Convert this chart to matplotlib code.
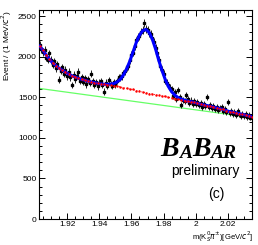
import numpy as np
import matplotlib
matplotlib.use("Agg")
import matplotlib.pyplot as plt
from matplotlib.ticker import MultipleLocator

# data points, 1 MeV bins
mass = np.round(np.arange(1.903, 2.0345, 0.001), 4)
counts = [2150, 2095, 2060, 2085, 1990, 1965, 2040, 1960, 1900, 1945,
          1860, 1905, 1715, 1830, 1870, 1790, 1840, 1760, 1815, 1745,
          1650, 1780, 1720, 1765, 1815, 1700, 1745, 1690, 1735, 1660,
          1720, 1675, 1790, 1700, 1655, 1690, 1635, 1680, 1700, 1650,
          1570, 1680, 1640, 1710, 1660, 1640, 1690, 1660, 1700, 1745,
          1740, 1760, 1800, 1820, 1870, 1880, 1960, 2020, 2050, 2130,
          2200, 2240, 2250, 2310, 2330, 2410, 2340, 2330, 2290, 2280,
          2230, 2180, 2110, 2040, 1960, 1880, 1840, 1790, 1700, 1680,
          1650, 1620, 1600, 1520, 1560, 1480, 1590, 1500, 1400, 1470,
          1450, 1525, 1480, 1430, 1460, 1415, 1450, 1420, 1445, 1400,
          1430, 1385, 1420, 1395, 1505, 1380, 1400, 1365, 1395, 1355,
          1380, 1345, 1370, 1380, 1330, 1355, 1320, 1440, 1310, 1335,
          1295, 1320, 1285, 1330, 1290, 1270, 1300, 1265, 1290, 1255,
          1285, 1250]

# fit curves, 2 MeV steps
fit_mass = np.round(np.arange(1.903, 2.0355, 0.002), 4)
bkg_red = [2130, 2080, 2020, 1970, 1925, 1890, 1860, 1835, 1810, 1785,
           1765, 1750, 1735, 1722, 1710, 1698, 1688, 1680, 1672, 1665,
           1660, 1655, 1650, 1645, 1638, 1630, 1616, 1612, 1600, 1596,
           1583, 1577, 1563, 1558, 1546, 1541, 1530, 1527, 1516, 1512,
           1498, 1494, 1482, 1476, 1468, 1460, 1452, 1444, 1436, 1426,
           1415, 1406, 1398, 1390, 1380, 1370, 1360, 1350, 1335, 1324,
           1316, 1308, 1298, 1290, 1280, 1270, 1262]
total_blue = [2130, 2080, 2020, 1970, 1925, 1890, 1860, 1835, 1810, 1785,
              1765, 1750, 1735, 1722, 1710, 1698, 1688, 1680, 1672, 1665,
              1660, 1660, 1662, 1670, 1688, 1720, 1775, 1850, 1945, 2060,
              2175, 2265, 2320, 2336, 2300, 2215, 2095, 1955, 1830, 1720,
              1632, 1568, 1527, 1496, 1478, 1464, 1454, 1446, 1437, 1426,
              1415, 1406, 1398, 1390, 1380, 1370, 1360, 1350, 1335, 1324,
              1316, 1308, 1298, 1290, 1280, 1270, 1262]
green_mass = [1.9025, 2.035]
green_line = [1610, 1250]

xticks = [1.92, 1.94, 1.96, 1.98, 2.0, 2.02]
xticklabels = ['1.92', '1.94', '1.96', '1.98', '2', '2.02']
yticks = [0, 500, 1000, 1500, 2000, 2500]

plt.rcParams['font.family'] = ['Liberation Sans', 'DejaVu Sans']

fig = plt.figure(figsize=(2.58, 2.45), dpi=100)
ax = fig.add_axes([0.151, 0.106, 0.826, 0.853])

counts = np.array(counts)
ax.errorbar(mass, counts, yerr=np.sqrt(counts), xerr=0.0005, fmt='s',
            color='k', ms=1.8, elinewidth=0.6, capsize=0, zorder=3)
ax.plot(fit_mass, total_blue, color='#0000ff', lw=2.2, zorder=4)
ax.plot(fit_mass, bkg_red, color='#ff0000', lw=0.7, ls=':', marker='.',
        ms=1.5, zorder=5)
ax.plot(green_mass, green_line, color='#66ff66', lw=0.9, zorder=2)

ax.set_xlim(1.9025, 2.035)
ax.set_ylim(0, 2575)
ax.set_xticks(xticks)
ax.set_xticklabels(xticklabels)
ax.set_yticks(yticks)
ax.xaxis.set_minor_locator(MultipleLocator(0.005))
ax.yaxis.set_minor_locator(MultipleLocator(100))
ax.tick_params(which='both', direction='in', top=True, right=True,
               labelsize=6, pad=1.5, width=0.7)
ax.tick_params(which='major', length=4)
ax.tick_params(which='minor', length=2)
for s in ax.spines.values():
    s.set_linewidth(0.8)

ax.set_ylabel(r'Event / (1 MeV/$c^2$)', fontsize=6, loc='top', labelpad=3)
fig.text(0.98, 0.003, r'm(K$^0_S\pi^{\pm}$)[GeV/$c^2$]', fontsize=5.5,
         ha='right', va='bottom')

# BaBar logo
logo = dict(family='Liberation Serif', weight='bold', style='italic')
t1 = ax.text(0.57, 0.30, 'B', transform=ax.transAxes, fontsize=20,
             va='baseline', **logo)
t2 = ax.annotate('A', xy=(1, 0), xycoords=t1, fontsize=14, va='bottom',
                 **logo)
t3 = ax.annotate('B', xy=(1, 0), xycoords=t2, fontsize=20, va='bottom',
                 **logo)
ax.annotate('AR', xy=(1, 0), xycoords=t3, fontsize=14, va='bottom', **logo)
ax.text(0.94, 0.21, 'preliminary', transform=ax.transAxes, fontsize=10,
        ha='right', va='baseline')
ax.text(0.87, 0.10, '(c)', transform=ax.transAxes, fontsize=10,
        ha='right', va='baseline')

fig.savefig('out.png', dpi=100)
